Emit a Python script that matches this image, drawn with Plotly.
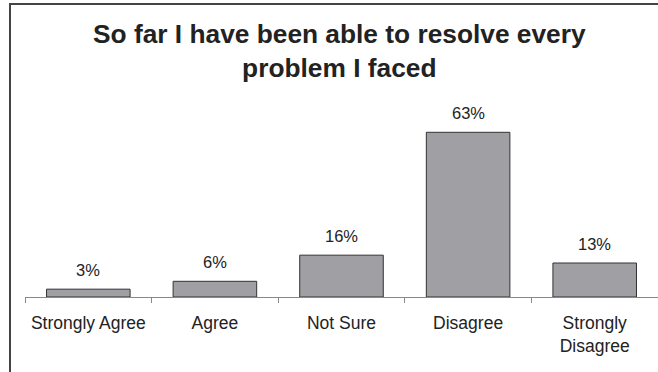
import plotly.graph_objects as go

categories = ["Strongly Agree", "Agree", "Not Sure", "Disagree", "Strongly<br>Disagree"]
values = [3, 6, 16, 63, 13]
labels = ["3%", "6%", "16%", "63%", "13%"]
title_text = "<b>So far I have been able to resolve every<br>problem I faced</b>"

W, H = 658, 372
# frame (outer box) pixel edges
FL, FT = 11, 5
# bar plot area pixel edges
PL, PR, PT, PB = 25, 658, 114, 297

ml, mt, mr, mb = FL, FT, 0, 0
aw, ah = W - ml - mr, H - mt - mb
dom_x = [(PL - ml) / aw, (PR - ml) / aw]
dom_y = [(H - mb - PB) / ah, (H - mb - PT) / ah]

fig = go.Figure()
fig.add_trace(go.Bar(
    x=categories, y=values,
    marker=dict(color="#A0A0A4", line=dict(color="#333333", width=1)),
    hoverinfo="skip",
))
# empty trace so the frame axes exist
fig.add_trace(go.Scatter(x=[None], y=[None], xaxis="x2", yaxis="y2", hoverinfo="skip", showlegend=False))

for c, v, t in zip(categories, values, labels):
    fig.add_annotation(x=c, y=v, text=t, showarrow=False, yanchor="bottom",
                       yshift=8, font=dict(family="Liberation Sans, Arial", size=16.5, color="#222222"))

# title
fig.add_annotation(xref="paper", yref="paper", x=(339 - ml) / aw, y=(H - mb - 17) / ah,
                   xanchor="center", yanchor="top", showarrow=False, text=title_text,
                   font=dict(family="Liberation Sans, Arial", size=26.3, color="#222222"))

fig.update_layout(
    width=W, height=H,
    margin=dict(l=ml, r=mr, t=mt, b=mb, pad=0),
    paper_bgcolor="white", plot_bgcolor="rgba(0,0,0,0)",
    bargap=0.34,
    showlegend=False,
    font=dict(family="Liberation Sans, Arial", color="#222222"),
    xaxis=dict(type="category", domain=dom_x, anchor="y", showline=True, linecolor="#888888", linewidth=1,
               ticks="outside", tickson="boundaries", ticklen=5, tickcolor="#888888",
               tickfont=dict(size=17.5, color="#222222"), showgrid=False, zeroline=False,
               ticklabelstandoff=10),
    yaxis=dict(range=[0, 70], domain=dom_y, anchor="x", visible=False, showgrid=False, zeroline=False),
    xaxis2=dict(domain=[0, 1], anchor="y2", side="top", range=[0, 1], showline=True,
                linecolor="#444444", linewidth=1.5, showticklabels=False, ticks="",
                showgrid=False, zeroline=False, fixedrange=True),
    yaxis2=dict(domain=[0, 1], anchor="x2", side="left", range=[0, 1], showline=True,
                linecolor="#444444", linewidth=1.5, showticklabels=False, ticks="",
                showgrid=False, zeroline=False, fixedrange=True),
)

fig.write_html("out.html")
